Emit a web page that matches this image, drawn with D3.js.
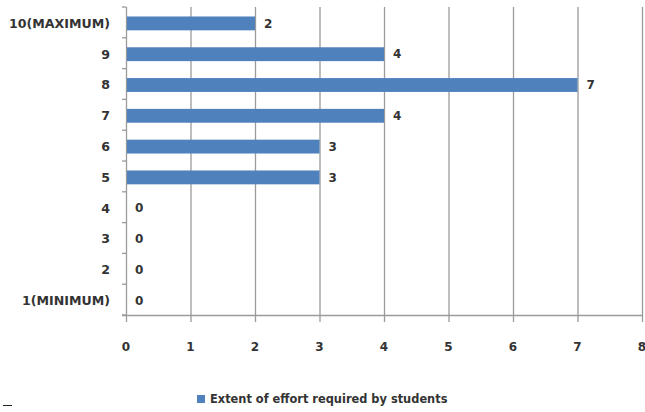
<!DOCTYPE html>
<html><head><meta charset="utf-8">
<script src="https://cdn.jsdelivr.net/npm/d3@7"></script>
<style>body{margin:0;background:#fff}svg{display:block}text{font-family:"DejaVu Sans",sans-serif;font-weight:bold;fill:#333}</style>
</head><body><svg id="c" width="645" height="412"></svg>
<script>
const categories = ["10(MAXIMUM)","9","8","7","6","5","4","3","2","1(MINIMUM)"];
const values = [2,4,7,4,3,3,0,0,0,0];
const xTicks = [0,1,2,3,4,5,6,7,8];
const seriesName = "Extent of effort required by students";

const svg = d3.select("#c");
const pL = 126, pR = 642, pT = 7, pB = 315;
const x = d3.scaleLinear().domain([0,8]).range([pL,pR]);
const y = d3.scaleBand().domain(categories).range([pT,pB]).paddingInner(0.55).paddingOuter(0.275);

// gridlines + x ticks
svg.append("g").selectAll("line").data(xTicks).join("line")
  .attr("x1",d=>x(d)+0.5).attr("x2",d=>x(d)+0.5)
  .attr("y1",pT).attr("y2",pB+7)
  .attr("stroke","#9a9a9a").attr("stroke-width",1.3);

// y axis boundary ticks
const bounds = d3.range(categories.length+1).map(i=>pT + i*(pB-pT)/categories.length);
svg.append("g").selectAll("line").data(bounds).join("line")
  .attr("x1",pL-4).attr("x2",pL).attr("y1",d=>d).attr("y2",d=>d)
  .attr("stroke","#9a9a9a").attr("stroke-width",1.3);
// x axis line
svg.append("line").attr("x1",pL-4).attr("x2",pR+1).attr("y1",pB+0.5).attr("y2",pB+0.5)
  .attr("stroke","#9a9a9a").attr("stroke-width",1.3);

// bars
svg.append("g").selectAll("rect").data(values).join("rect")
  .attr("x",x(0)+1).attr("y",(d,i)=>y(categories[i])+1)
  .attr("width",d=>Math.max(0,x(d)-x(0)-1)).attr("height",y.bandwidth())
  .attr("fill","#4F81BD");

// value labels
svg.append("g").selectAll("text").data(values).join("text")
  .attr("x",d=>x(d)+9).attr("y",(d,i)=>y(categories[i])+y.bandwidth()/2+1)
  .attr("dy","0.35em").attr("font-size",12).text(d=>d);

// category labels
svg.append("g").selectAll("text").data(categories).join("text")
  .attr("x",110).attr("y",d=>y(d)+y.bandwidth()/2+1)
  .attr("dy","0.35em").attr("text-anchor","end").attr("font-size",12.6).text(d=>d);

// x tick labels
svg.append("g").selectAll("text").data(xTicks).join("text")
  .attr("x",d=>x(d)).attr("y",347).attr("dy","0.35em")
  .attr("text-anchor","middle").attr("font-size",12).text(d=>d);

// legend
svg.append("rect").attr("x",197).attr("y",395).attr("width",8).attr("height",8).attr("fill","#4F81BD");
svg.append("text").attr("x",210).attr("y",399).attr("dy","0.35em").attr("font-size",11.4).text(seriesName);

// small artifact dash bottom-left
svg.append("line").attr("x1",3).attr("x2",12).attr("y1",405.5).attr("y2",405.5).attr("stroke","#222").attr("stroke-width",1);
</script></body></html>
